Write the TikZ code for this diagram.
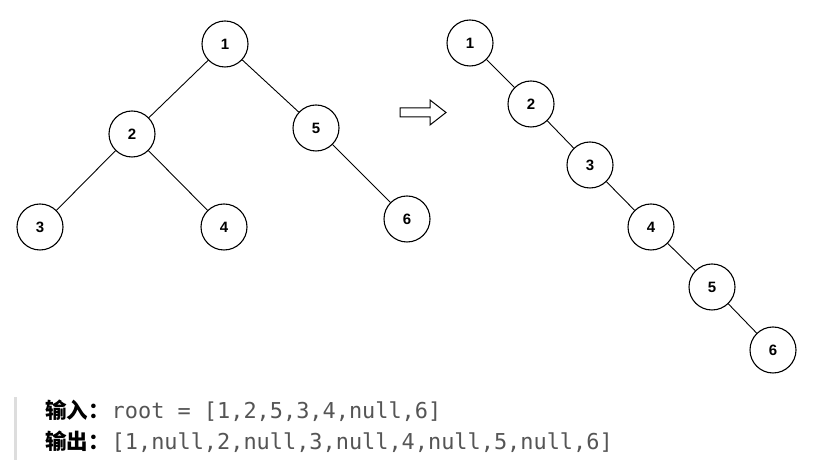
\documentclass[tikz,border=0pt]{standalone}
\usepackage{fontspec}
\setmainfont{Liberation Sans}
\newfontfamily\cjk{Noto Sans CJK SC}
\newfontfamily\codefont{DejaVu Sans Mono}

\begin{document}
\begin{tikzpicture}[x=1pt,y=1pt,
  tnode/.style={draw=black,circle,line width=1.1pt,minimum size=46pt,inner sep=0pt,fill=white,font=\fontsize{15}{17}\selectfont\bfseries},
  tedge/.style={draw=black,line width=0.9pt}]
\definecolor{codeColor}{RGB}{85,85,85}
\definecolor{barColor}{RGB}{221,221,221}
\path[use as bounding box,fill=white] (0,0) rectangle (835,470);

% left tree
\node[tnode] (l1) at (225,426) {1};
\node[tnode] (l2) at (132,336) {2};
\node[tnode] (l5) at (316,342) {5};
\node[tnode] (l3) at ( 40,243) {3};
\node[tnode] (l4) at (224,243) {4};
\node[tnode] (l6) at (407,251) {6};
\draw[tedge] (l1) -- (l2);
\draw[tedge] (l1) -- (l5);
\draw[tedge] (l2) -- (l3);
\draw[tedge] (l2) -- (l4);
\draw[tedge] (l5) -- (l6);

% arrow
\draw[line width=1pt,line join=miter] (400,353) -- (400,362) -- (430,362) -- (430,370)
  -- (446,357.5) -- (430,345) -- (430,353) -- cycle;

% right tree (flattened)
\node[tnode] (r1) at (470,427) {1};
\node[tnode] (r2) at (531,366) {2};
\node[tnode] (r3) at (590,305) {3};
\node[tnode] (r4) at (651,243) {4};
\node[tnode] (r5) at (712,183) {5};
\node[tnode] (r6) at (773,120) {6};
\draw[tedge] (r1) -- (r2);
\draw[tedge] (r2) -- (r3);
\draw[tedge] (r3) -- (r4);
\draw[tedge] (r4) -- (r5);
\draw[tedge] (r5) -- (r6);

% example block
\fill[barColor] (14,10) rectangle (17,73);
\node[anchor=base west,inner sep=0pt] (inp) at (45,51)
  {\fontsize{21.5}{24}\selectfont{\cjk\bfseries 输入：}\hspace{2pt}{\fontsize{21.9}{24}\codefont\color{codeColor}root = [1,2,5,3,4,null,6]}};
\node[anchor=base west,inner sep=0pt] (outp) at (45,20)
  {\fontsize{21.5}{24}\selectfont{\cjk\bfseries 输出：}\hspace{2pt}{\fontsize{21.9}{24}\codefont\color{codeColor}[1,null,2,null,3,null,4,null,5,null,6]}};
\end{tikzpicture}
\end{document}
